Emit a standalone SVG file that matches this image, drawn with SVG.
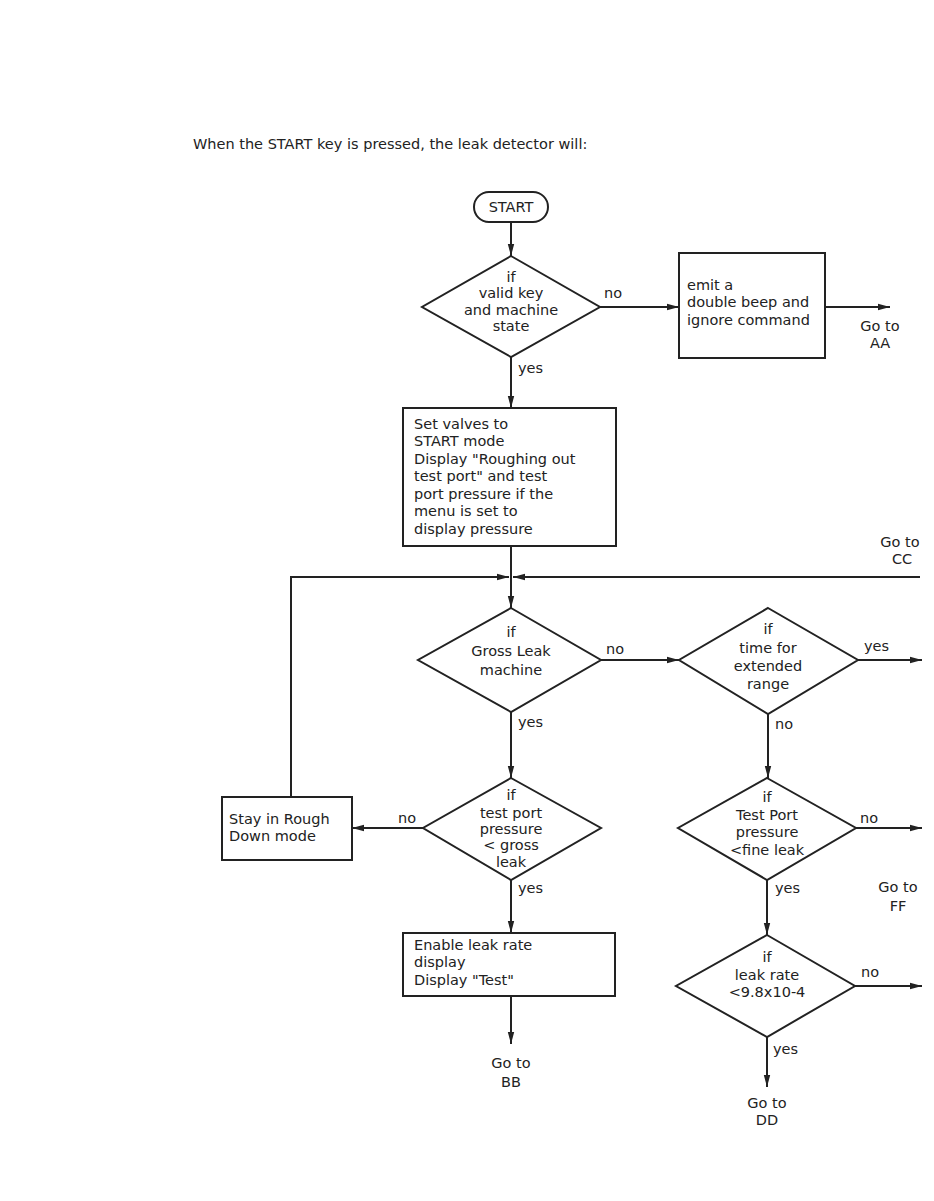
<svg xmlns="http://www.w3.org/2000/svg" width="934" height="1201" viewBox="0 0 934 1201">
<style>
text{font-family:"DejaVu Sans","Liberation Sans",Arial,sans-serif;font-size:14.5px;fill:#222}
.c{text-anchor:middle}
.s{fill:none;stroke:#222;stroke-width:2}
.w{fill:#fff;stroke:#222;stroke-width:2}
</style>
<defs>
<marker id="a" viewBox="0 0 12 8" refX="12" refY="4" markerWidth="12" markerHeight="8" markerUnits="userSpaceOnUse" orient="auto"><path d="M0,0.8L12,4L0,7.2z" fill="#222"/></marker>
</defs>
<rect width="934" height="1201" fill="#fff"/>
<text x="193" y="149">When the START key is pressed, the leak detector will:</text>

<g id="connectors" class="s" marker-end="url(#a)">
<path d="M511,222V256"/>
<path d="M600,307H679"/>
<path d="M825,307H890"/>
<path d="M511,357V408"/>
<path d="M511,546V608"/>
<path d="M291,797V577H509"/>
<path d="M920,577H513"/>
<path d="M601,660H679"/>
<path d="M858,660H922"/>
<path d="M511,712V778"/>
<path d="M768,714V778"/>
<path d="M423,828H352"/>
<path d="M511,880V933"/>
<path d="M856,828H922"/>
<path d="M767,880V935"/>
<path d="M511,996V1044"/>
<path d="M855,986H922"/>
<path d="M767,1037V1087"/>
</g>

<g id="start"><rect class="w" x="474" y="192" width="74" height="30" rx="15"/><text class="c" x="511" y="212">START</text></g>

<g id="valid"><path class="w" d="M511,256L600,307L511,357L422,307z"/>
<text class="c" x="511" y="282">if</text><text class="c" x="511" y="298">valid key</text><text class="c" x="511" y="315">and machine</text><text class="c" x="511" y="331">state</text></g>
<text x="604" y="298">no</text>
<text x="518" y="373">yes</text>

<g id="beep"><rect class="w" x="679" y="253" width="146" height="105"/>
<text x="687" y="290">emit a</text><text x="687" y="307">double beep and</text><text x="687" y="325">ignore command</text></g>
<g id="goAA"><text class="c" x="880" y="331">Go to</text><text class="c" x="880" y="348">AA</text></g>

<g id="setvalves"><rect class="w" x="403" y="408" width="213" height="138"/>
<text x="414" y="429">Set valves to</text><text x="414" y="446">START mode</text><text x="414" y="464">Display "Roughing out</text><text x="414" y="481">test port" and test</text><text x="414" y="499">port pressure if the</text><text x="414" y="516">menu is set to</text><text x="414" y="534">display pressure</text></g>
<g id="goCC"><text class="c" x="900" y="547">Go to</text><text class="c" x="902" y="564">CC</text></g>

<g id="gross"><path class="w" d="M511,608L601,660L511,712L418,660z"/>
<text class="c" x="511" y="637">if</text><text class="c" x="511" y="656">Gross Leak</text><text class="c" x="511" y="675">machine</text></g>
<text x="606" y="654">no</text>
<text x="518" y="727">yes</text>

<g id="extended"><path class="w" d="M768,608L858,660L768,714L679,660z"/>
<text class="c" x="768" y="634">if</text><text class="c" x="768" y="653">time for</text><text class="c" x="768" y="671">extended</text><text class="c" x="768" y="689">range</text></g>
<text x="864" y="651">yes</text>
<text x="775" y="729">no</text>

<g id="testport"><path class="w" d="M511,778L601,828L511,880L423,828z"/>
<text class="c" x="511" y="800">if</text><text class="c" x="511" y="818">test port</text><text class="c" x="511" y="834">pressure</text><text class="c" x="511" y="850">&lt; gross</text><text class="c" x="511" y="867">leak</text></g>
<text x="398" y="823">no</text>
<text x="518" y="893">yes</text>

<g id="rough"><rect class="w" x="222" y="797" width="130" height="63"/>
<text x="229" y="824">Stay in Rough</text><text x="229" y="841">Down mode</text></g>

<g id="fineleak"><path class="w" d="M767,778L856,828L767,880L678,828z"/>
<text class="c" x="767" y="802">if</text><text class="c" x="767" y="820">Test Port</text><text class="c" x="767" y="837">pressure</text><text class="c" x="767" y="855">&lt;fine leak</text></g>
<text x="860" y="823">no</text>
<text x="775" y="893">yes</text>
<g id="goFF"><text class="c" x="898" y="892">Go to</text><text class="c" x="898" y="911">FF</text></g>

<g id="enable"><rect class="w" x="403" y="933" width="212" height="63"/>
<text x="414" y="950">Enable leak rate</text><text x="414" y="967">display</text><text x="414" y="985">Display "Test"</text></g>
<g id="goBB"><text class="c" x="511" y="1068">Go to</text><text class="c" x="511" y="1087">BB</text></g>

<g id="leakrate"><path class="w" d="M767,935L855,986L767,1037L676,986z"/>
<text class="c" x="767" y="962">if</text><text class="c" x="767" y="980">leak rate</text><text class="c" x="767" y="997">&lt;9.8x10-4</text></g>
<text x="861" y="977">no</text>
<text x="773" y="1054">yes</text>
<g id="goDD"><text class="c" x="767" y="1108">Go to</text><text class="c" x="767" y="1125">DD</text></g>
</svg>
